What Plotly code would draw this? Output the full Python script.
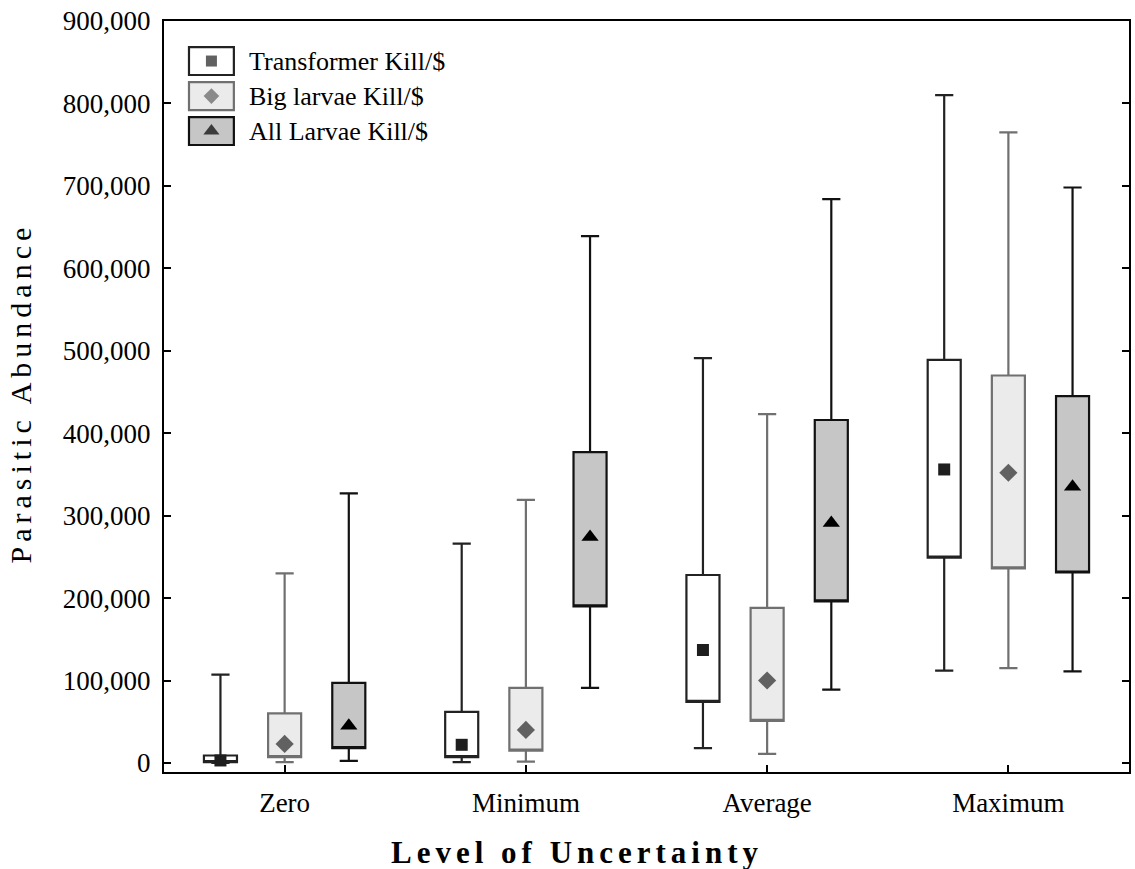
import plotly.graph_objects as go

categories = ["Zero", "Minimum", "Average", "Maximum"]
series_names = ["Transformer Kill/$", "Big larvae Kill/$", "All Larvae Kill/$"]

# per series, per category values
transformer_min = [0, 1000, 18000, 112000]
transformer_q1 = [1000, 7000, 74000, 249000]
transformer_q3 = [9000, 62000, 228000, 489000]
transformer_max = [107000, 266000, 491000, 810000]
transformer_mid = [3000, 22000, 137000, 356000]

big_min = [1000, 1500, 11000, 115000]
big_q1 = [7000, 15000, 51000, 236000]
big_q3 = [60000, 91000, 188000, 470000]
big_max = [230000, 319000, 423000, 765000]
big_mid = [23000, 40000, 100000, 352000]

all_min = [2500, 91000, 89000, 111000]
all_q1 = [18000, 190000, 196000, 231000]
all_q3 = [97000, 377000, 416000, 445000]
all_max = [327000, 639000, 684000, 698000]
all_mid = [45000, 274000, 291000, 335000]

y_ticks = [0, 100000, 200000, 300000, 400000, 500000, 600000, 700000, 800000, 900000]

series_data = [
    (transformer_min, transformer_q1, transformer_q3, transformer_max, transformer_mid),
    (big_min, big_q1, big_q3, big_max, big_mid),
    (all_min, all_q1, all_q3, all_max, all_mid),
]

# styles
fills = ["#ffffff", "#ebebeb", "#c6c6c6"]
lines = ["#222222", "#707070", "#111111"]
mk_symbols = ["square", "diamond", "triangle-up"]
mk_colors = ["#1e1e1e", "#616161", "#000000"]
mk_sizes = [12, 14, 15]
offsets = [-0.266, 0.0, 0.266]
box_width = 0.137

FONT = "Liberation Serif, Times New Roman, serif"

fig = go.Figure()
pos = list(range(1, len(categories) + 1))
for k, name in enumerate(series_names):
    mn, q1, q3, mx, mid = series_data[k]
    xs = [p + offsets[k] for p in pos]
    fig.add_trace(go.Box(
        x=xs, q1=q1, median=q1, q3=q3, lowerfence=mn, upperfence=mx,
        width=box_width, whiskerwidth=0.55, boxpoints=False,
        fillcolor=fills[k], line=dict(color=lines[k], width=2.2),
        name=name, showlegend=False, hoverinfo="skip",
    ))
    fig.add_trace(go.Scatter(
        x=xs, y=mid, mode="markers", name=name, showlegend=False,
        marker=dict(symbol=mk_symbols[k], color=mk_colors[k], size=mk_sizes[k],
                    line=dict(width=0)),
    ))

# custom legend (rectangle with marker inside, like the original)
row_y = [0.9467, 0.900, 0.8535]
rx0, rx1, rh = 0.0259, 0.0724, 0.0186
shapes = []
annotations = []
for k, name in enumerate(series_names):
    shapes.append(dict(type="rect", xref="paper", yref="paper",
                       x0=rx0, x1=rx1, y0=row_y[k] - rh, y1=row_y[k] + rh,
                       fillcolor=fills[k], line=dict(color=lines[k], width=2.2),
                       layer="below"))
    annotations.append(dict(x=0.0858, y=row_y[k], xref="paper", yref="paper",
                            text=name, showarrow=False, xanchor="left", yanchor="middle",
                            font=dict(family=FONT, size=26, color="#000")))

# axis titles (wide-spaced, as in the original)
annotations.append(dict(x=0.428, y=-0.107, xref="paper", yref="paper",
                        text='<span style="letter-spacing:5px"><b>Level of Uncertainty</b></span>',
                        showarrow=False, xanchor="center", yanchor="middle",
                        font=dict(family=FONT, size=31, color="#000")))
annotations.append(dict(x=-0.1485, y=0.505, xref="paper", yref="paper",
                        text='<span style="letter-spacing:5px">Parasitic Abundance</span>',
                        textangle=-90, showarrow=False, xanchor="center", yanchor="middle",
                        font=dict(family=FONT, size=30, color="#000")))

fig.add_trace(go.Scatter(
    x=[(rx0 + rx1) / 2] * 3, y=row_y, xaxis="x2", yaxis="y2", mode="markers",
    showlegend=False, hoverinfo="skip",
    marker=dict(symbol=mk_symbols, color=mk_colors, size=[11, 12, 14], line=dict(width=0)),
))

fig.update_layout(
    width=1135, height=869,
    margin=dict(l=164, r=4, t=21, b=97),
    paper_bgcolor="white", plot_bgcolor="white",
    showlegend=False,
    boxmode="overlay",
    font=dict(family=FONT, size=26, color="#000"),
    shapes=shapes, annotations=annotations,
    xaxis=dict(range=[0.5, 4.5], tickmode="array", tickvals=pos, ticktext=categories,
               showgrid=False, zeroline=False, showline=True, linecolor="#000", linewidth=2,
               mirror=True, ticks="inside", ticklen=7, tickwidth=2, tickcolor="#000",
               tickfont=dict(family=FONT, size=27), ticklabelstandoff=6),
    yaxis=dict(range=[-11000, 900000], tickmode="array", tickvals=y_ticks,
               tickformat=",", showgrid=False, zeroline=False, showline=True,
               linecolor="#000", linewidth=2, mirror="ticks", ticks="inside",
               ticklen=7, tickwidth=2, tickcolor="#000", ticklabelstandoff=6,
               tickfont=dict(family=FONT, size=27)),
    xaxis2=dict(overlaying="x", range=[0, 1], visible=False),
    yaxis2=dict(overlaying="y", range=[0, 1], visible=False),
)

fig.write_html("out.html")
